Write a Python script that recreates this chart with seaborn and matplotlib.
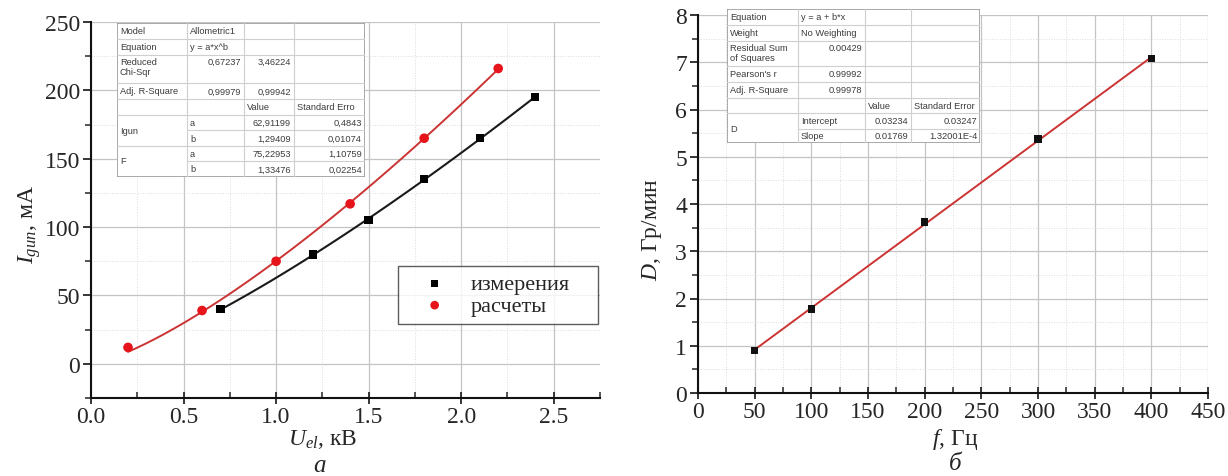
import numpy as np
import pandas as pd
import matplotlib
matplotlib.use("Agg")
import matplotlib.pyplot as plt
from matplotlib.patches import Rectangle
from matplotlib.ticker import MultipleLocator
import seaborn as sns

# ---------------- data ----------------
u_meas = [0.7, 1.2, 1.5, 1.8, 2.1, 2.4]
i_meas = [40, 80, 105, 135, 165, 195]
u_calc = [0.2, 0.6, 1.0, 1.4, 1.8, 2.2]
i_calc = [12, 39, 75, 117, 165, 216]
fit_meas = [62.91199, 1.29409]   # a, b  (y = a*x^b)
fit_calc = [75.22953, 1.33476]

f_hz = [50, 100, 200, 300, 400]
dose = [0.9, 1.78, 3.62, 5.37, 7.08]
fit_lin = [0.03234, 0.01769]     # intercept, slope

legend_labels = ["измерения", "расчеты"]

table_left_rows = [
    ["Model", "Allometric1", "", ""],
    ["Equation", "y = a*x^b", "", ""],
    ["Reduced\nChi-Sqr", "0,67237", "3,46224", ""],
    ["Adj. R-Square", "0,99979", "0,99942", ""],
    ["", "", "Value", "Standard Erro"],
    ["Igun", "a", "62,91199", "0,4843"],
    ["", "b", "1,29409", "0,01074"],
    ["F", "a", "75,22953", "1,10759"],
    ["", "b", "1,33476", "0,02254"],
]
table_right_rows = [
    ["Equation", "y = a + b*x", "", ""],
    ["Weight", "No Weighting", "", ""],
    ["Residual Sum\nof Squares", "0.00429", "", ""],
    ["Pearson's r", "0.99992", "", ""],
    ["Adj. R-Square", "0.99978", "", ""],
    ["", "", "Value", "Standard Error"],
    ["D", "Intercept", "0.03234", "0.03247"],
    ["", "Slope", "0.01769", "1.32001E-4"],
]

# ---------------- style ----------------
sns.set_style("ticks")
plt.rcParams["font.family"] = ["Liberation Serif", "DejaVu Serif"]
plt.rcParams["mathtext.fontset"] = "custom"
plt.rcParams["mathtext.rm"] = "Liberation Serif"
plt.rcParams["mathtext.it"] = "Liberation Serif:italic"

W, H = 1228, 477
fig = plt.figure(figsize=(W / 100, H / 100), dpi=100)


def px_axes(x0, y0, x1, y1, **kw):
    return fig.add_axes([x0 / W, 1 - y1 / H, (x1 - x0) / W, (y1 - y0) / H], **kw)


def style_axes(ax, xmaj, xmin, ymaj, ymin):
    ax.xaxis.set_major_locator(MultipleLocator(xmaj))
    ax.xaxis.set_minor_locator(MultipleLocator(xmin))
    ax.yaxis.set_major_locator(MultipleLocator(ymaj))
    ax.yaxis.set_minor_locator(MultipleLocator(ymin))
    ax.grid(True, which="major", color="#c4c4c4", lw=0.9)
    ax.grid(True, which="minor", color="#dcdcdc", lw=0.7, ls=":")
    ax.set_axisbelow(True)
    for s in ["top", "right"]:
        ax.spines[s].set_visible(False)
    for s in ["left", "bottom"]:
        ax.spines[s].set_linewidth(1.5)
        ax.spines[s].set_color("#111111")
    ax.tick_params(axis="x", which="major", direction="inout", length=9, width=1.3,
                   labelsize=17, pad=1)
    ax.tick_params(axis="x", which="minor", direction="in", length=4, width=1.1)
    ax.tick_params(axis="y", which="major", direction="out", length=6, width=1.3,
                   labelsize=17, pad=2)
    ax.tick_params(axis="y", which="minor", direction="out", length=4, width=1.1)
    ax.set_xlabel("")
    ax.set_ylabel("")


# ---------------- left panel ----------------
ax1 = px_axes(91, 23, 600, 399)
xm = np.linspace(min(u_meas), max(u_meas), 100)
xc = np.linspace(min(u_calc), max(u_calc), 100)
sns.lineplot(x=xm, y=fit_meas[0] * xm ** fit_meas[1], ax=ax1, color="#1a1a1a", lw=1.5)
sns.lineplot(x=xc, y=fit_calc[0] * xc ** fit_calc[1], ax=ax1, color="#cc3333", lw=1.4)
sns.scatterplot(x=u_meas, y=i_meas, ax=ax1, marker="s", color="black", s=36,
                edgecolor="none", zorder=5, label=legend_labels[0])
sns.scatterplot(x=u_calc, y=i_calc, ax=ax1, marker="o", color="#e8141c", s=48,
                edgecolor="none", zorder=5, label=legend_labels[1])
ax1.set_xlim(0, 2.75)
ax1.set_ylim(-25, 250)
style_axes(ax1, 0.5, 0.25, 50, 25)
ax1.xaxis.set_major_formatter(matplotlib.ticker.FormatStrFormatter("%.1f"))
leg = ax1.legend(loc="upper left",
                 bbox_to_anchor=((398 - 91) / 509, (399 - 322) / 376, 200 / 509, 55 / 376),
                 mode="expand", frameon=True, fancybox=False, fontsize=16,
                 handletextpad=0.3, borderpad=0.35, labelspacing=0.05,
                 handlelength=2.6, markerscale=0.9, borderaxespad=0.0)
leg.get_frame().set_edgecolor("#333333")
leg.get_frame().set_linewidth(1.0)

fig.text(30 / W, 1 - 225 / H, r"$I_{gun}$, мА", rotation=90, ha="center", va="center",
         fontsize=17)
fig.text(323 / W, 1 - 440 / H, r"$U_{el}$, кВ", ha="center", va="center", fontsize=17)
fig.text(320 / W, 1 - 466 / H, "а", ha="center", va="center", fontsize=18, style="italic")

# ---------------- right panel ----------------
ax2 = px_axes(698, 16, 1208, 394)
xl = np.linspace(min(f_hz), max(f_hz), 50)
sns.lineplot(x=xl, y=fit_lin[0] + fit_lin[1] * xl, ax=ax2, color="#cc3333", lw=1.4)
sns.scatterplot(x=f_hz, y=dose, ax=ax2, marker="s", color="#111111", s=30,
                edgecolor="none", zorder=5)
ax2.set_xlim(0, 450)
ax2.set_ylim(0, 8)
style_axes(ax2, 50, 25, 1, 0.5)
if ax2.get_legend() is not None:
    ax2.get_legend().remove()

fig.text(652 / W, 1 - 230 / H, r"$D$, Гр/мин", rotation=90, ha="center", va="center",
         fontsize=17)
fig.text(955 / W, 1 - 439 / H, r"$f$, Гц", ha="center", va="center", fontsize=17)
fig.text(955 / W, 1 - 464 / H, "б", ha="center", va="center", fontsize=18, style="italic")


# ---------------- tables ----------------
def draw_table(left, top, col_edges, row_edges, rows, merged_rows, align):
    width, height = col_edges[-1], row_edges[-1]
    tax = px_axes(left, top, left + width, top + height, zorder=10)
    tax.set_xlim(0, width)
    tax.set_ylim(height, 0)
    tax.axis("off")
    tax.add_patch(Rectangle((0, 0), width, height, fc="white", ec="#9a9a9a", lw=1.2))
    lc = "#cfcfcf"
    for cx in col_edges[1:-1]:
        tax.plot([cx, cx], [0, height], color=lc, lw=0.8)
    for i, ry in enumerate(row_edges[1:-1], start=1):
        x_start = col_edges[1] if i in merged_rows else 0
        tax.plot([x_start, width], [ry, ry], color=lc, lw=0.8)
    tkw = dict(fontsize=6.7, color="#3c3c3c", family=["Liberation Sans", "DejaVu Sans"])
    for r, row in enumerate(rows):
        y0, y1 = row_edges[r], row_edges[r + 1]
        two_line = (y1 - y0) > 20
        for c, txt in enumerate(row):
            if not txt:
                continue
            x0, x1 = col_edges[c], col_edges[c + 1]
            ha = align(r, c)
            x = x0 + 3 if ha == "left" else x1 - 3
            if c == 0 and (r + 1) in merged_rows:
                tax.text(x, y1, txt, ha=ha, va="center", **tkw)
            elif two_line:
                tax.text(x, y0 + 2, txt, ha=ha, va="top", linespacing=1.1, **tkw)
            else:
                tax.text(x, (y0 + y1) / 2, txt, ha=ha, va="center", **tkw)


def align_left_table(r, c):
    if c == 0 or r in (0, 1, 4) or (c == 1 and r >= 5):
        return "left"
    return "right"


draw_table(117, 24, [0, 70, 127, 177, 248],
           [0, 16, 32, 60, 76, 92, 107, 123, 138, 154],
           table_left_rows, merged_rows={6, 8}, align=align_left_table)


def align_right_table(r, c):
    if c == 0 or r in (0, 1, 5) or (c == 1 and r >= 6):
        return "left"
    return "right"


draw_table(727, 10, [0, 71, 138, 184, 253],
           [0, 16, 32, 57, 73, 89, 104, 120, 134],
           table_right_rows, merged_rows={7}, align=align_right_table)

fig.savefig("out.png", dpi=100)
